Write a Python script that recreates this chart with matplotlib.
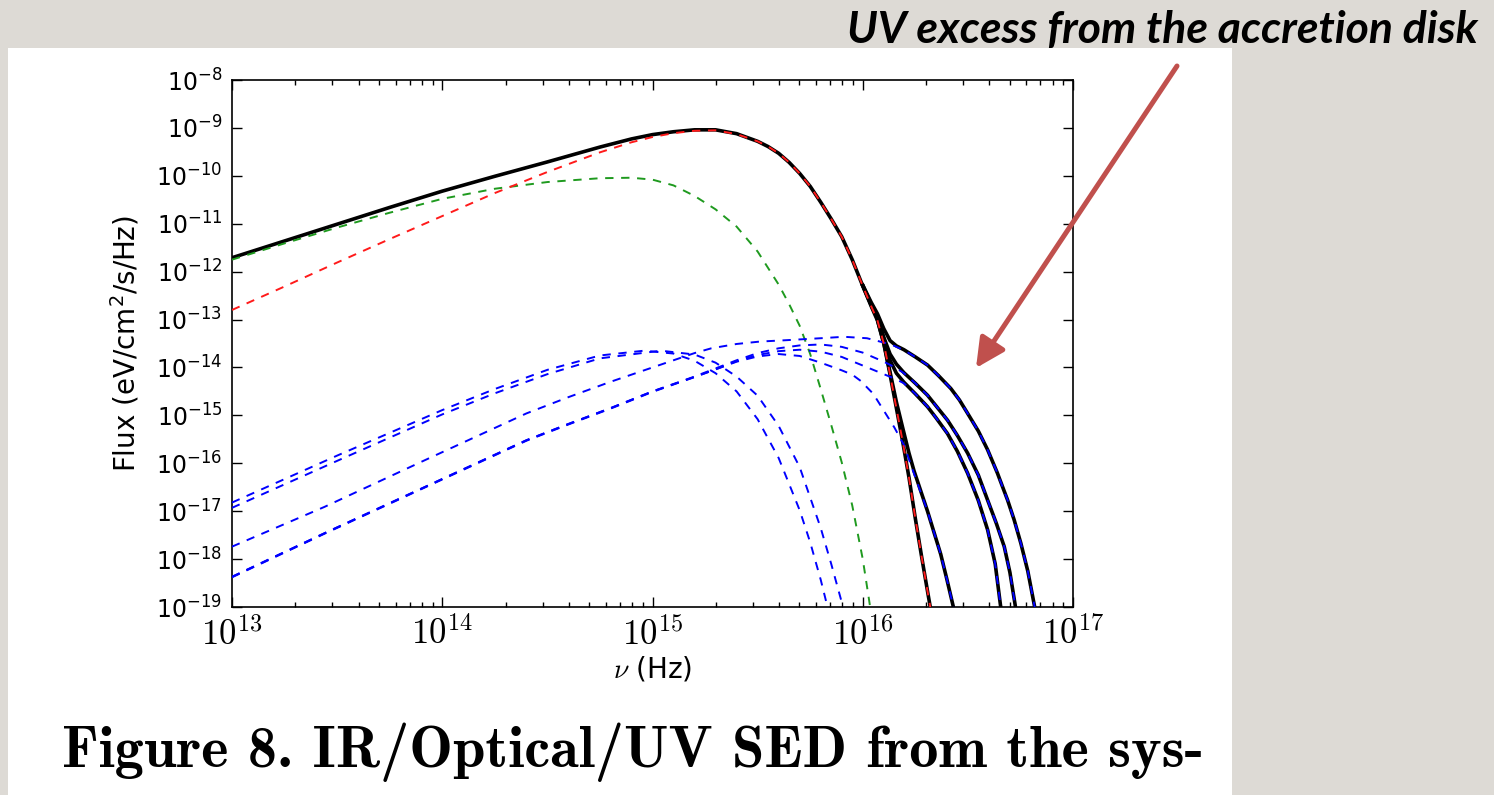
import numpy as np
import matplotlib
matplotlib.use("Agg")
import matplotlib.pyplot as plt
from matplotlib.patches import Rectangle, FancyArrowPatch
from matplotlib.ticker import LogLocator, NullLocator, FixedFormatter

plt.rcParams['mathtext.fontset'] = 'cm'
plt.rcParams['font.family'] = ['DejaVu Sans']
plt.rcParams['lines.scale_dashes'] = False

# everything below is log10(nu / Hz) and log10(flux)

# total (star + circumstellar component)
nu_total = [13.0, 13.25, 13.5, 13.75, 14.0, 14.25, 14.5, 14.75, 14.9, 15.0, 15.1, 15.2, 15.3, 15.4, 15.5,
            15.55, 15.6, 15.65, 15.7, 15.75, 15.8, 15.85, 15.9, 15.95, 16.0, 16.04, 16.07, 16.1, 16.13,
            16.16, 16.19, 16.22, 16.25, 16.28, 16.31, 16.335]
flux_total = [-11.71, -11.36, -11.01, -10.66, -10.32, -10.01, -9.71, -9.40, -9.23, -9.14, -9.08, -9.04, -9.04,
              -9.12, -9.28, -9.39, -9.53, -9.72, -9.95, -10.22, -10.55, -10.90, -11.27, -11.75, -12.30, -12.72,
              -13.02, -13.50, -14.15, -14.85, -15.55, -16.30, -17.15, -17.95, -18.72, -19.35]

# stellar component (red)
nu_star = [13.0, 13.25, 13.5, 13.75, 14.0, 14.25, 14.5, 14.75, 14.9, 15.0, 15.1, 15.2, 15.3, 15.4, 15.5,
           15.55, 15.6, 15.65, 15.7, 15.75, 15.8, 15.85, 15.9, 15.95, 16.0, 16.04, 16.07, 16.1, 16.13,
           16.16, 16.19, 16.22, 16.25, 16.28, 16.31, 16.335]
flux_star = [-12.80, -12.31, -11.81, -11.32, -10.84, -10.36, -9.92, -9.51, -9.30, -9.19, -9.11, -9.06, -9.05,
             -9.13, -9.28, -9.39, -9.53, -9.72, -9.95, -10.22, -10.55, -10.90, -11.27, -11.75, -12.30, -12.72,
             -13.02, -13.50, -14.15, -14.85, -15.55, -16.30, -17.15, -17.95, -18.72, -19.35]

# circumstellar component (green)
nu_green = [13.0, 13.25, 13.5, 13.75, 14.0, 14.25, 14.5, 14.75, 14.9, 15.0, 15.1, 15.2, 15.3, 15.4, 15.5,
            15.6, 15.65, 15.7, 15.75, 15.8, 15.85, 15.9, 15.95, 16.0, 16.03, 16.045]
flux_green = [-11.75, -11.41, -11.08, -10.77, -10.48, -10.27, -10.13, -10.05, -10.04, -10.08, -10.20, -10.42,
              -10.70, -11.06, -11.58, -12.27, -12.68, -13.13, -13.72, -14.45, -15.20, -15.98, -16.88, -18.00,
              -18.85, -19.30]

# accretion disk components (blue), low-frequency peaked pair
nu_p1 = [13.0, 13.5, 14.0, 14.25, 14.5, 14.75, 14.96, 15.1, 15.2, 15.3, 15.4, 15.5, 15.6, 15.7, 15.75, 15.8, 15.85]
flux_p1 = [-16.82, -15.84, -14.89, -14.45, -14.05, -13.75, -13.65, -13.71, -13.86, -14.12, -14.50, -15.08, -15.89,
           -16.98, -17.65, -18.43, -19.31]
nu_p2 = [13.0, 13.5, 14.0, 14.25, 14.5, 14.75, 15.04, 15.2, 15.3, 15.4, 15.5, 15.6, 15.7, 15.8, 15.85, 15.9, 15.93]
flux_p2 = [-16.93, -15.95, -14.98, -14.54, -14.14, -13.81, -13.65, -13.73, -13.90, -14.19, -14.59, -15.22, -16.08,
           -17.35, -18.10, -18.90, -19.40]

# accretion disk components (blue), high-frequency peaked
nu_q1 = [13.0, 13.44, 13.92, 14.4, 14.6, 14.8, 15.0, 15.12, 15.2, 15.28, 15.4, 15.51, 15.64, 15.8, 15.91, 16.02,
         16.1, 16.15, 16.196, 16.25, 16.308, 16.36, 16.419, 16.46, 16.499, 16.55, 16.594, 16.64, 16.689, 16.72,
         16.752, 16.785, 16.816, 16.83]
flux_q1 = [-17.74, -16.91, -15.93, -14.96, -14.62, -14.30, -14.00, -13.82, -13.70, -13.60, -13.51, -13.46, -13.43,
           -13.39, -13.36, -13.39, -13.48, -13.55, -13.64, -13.78, -13.95, -14.17, -14.44, -14.68, -14.96, -15.33,
           -15.72, -16.20, -16.77, -17.18, -17.67, -18.25, -18.96, -19.30]

nu_q2 = [13.0, 13.44, 13.92, 14.4, 14.6, 14.8, 15.0, 15.2, 15.3, 15.4, 15.5, 15.6, 15.7, 15.8, 15.9, 16.0, 16.1,
         16.15, 16.196, 16.25, 16.308, 16.35, 16.403, 16.45, 16.499, 16.55, 16.594, 16.635, 16.673, 16.70, 16.725,
         16.735]
flux_q2 = [-18.37, -17.46, -16.49, -15.52, -15.18, -14.85, -14.50, -14.19, -14.02, -13.85, -13.70, -13.60, -13.54,
           -13.52, -13.57, -13.69, -13.88, -13.99, -14.12, -14.33, -14.58, -14.81, -15.10, -15.42, -15.79, -16.25,
           -16.77, -17.25, -17.74, -18.28, -18.96, -19.30]

nu_q3 = [13.0, 13.44, 13.92, 14.4, 14.6, 14.8, 15.0, 15.2, 15.3, 15.4, 15.5, 15.6, 15.7, 15.8, 15.9, 16.0, 16.1,
         16.15, 16.196, 16.25, 16.308, 16.35, 16.403, 16.45, 16.499, 16.55, 16.594, 16.63, 16.655, 16.67]
flux_q3 = [-18.38, -17.47, -16.50, -15.53, -15.19, -14.86, -14.51, -14.20, -14.04, -13.87, -13.74, -13.66, -13.63,
           -13.67, -13.78, -13.96, -14.14, -14.23, -14.33, -14.55, -14.82, -15.06, -15.38, -15.75, -16.21, -16.78,
           -17.39, -18.10, -18.96, -19.40]

nu_q4 = [13.0, 13.44, 13.92, 14.4, 14.6, 14.8, 15.0, 15.2, 15.3, 15.4, 15.5, 15.6, 15.7, 15.8, 15.9, 15.95, 15.99,
         16.05, 16.1, 16.15, 16.196, 16.244, 16.308, 16.371, 16.40, 16.43, 16.44]
flux_q4 = [-18.37, -17.46, -16.49, -15.52, -15.18, -14.85, -14.50, -14.20, -14.04, -13.88, -13.77, -13.72, -13.76,
           -13.90, -14.06, -14.15, -14.28, -14.55, -14.90, -15.25, -15.62, -16.22, -17.00, -17.90, -18.42, -18.98,
           -19.30]

# totals with each disk added, from where they leave the stellar curve
nu_tot_a = [16.0, 16.04, 16.07, 16.10, 16.13, 16.16, 16.196, 16.25, 16.308, 16.36, 16.419, 16.46, 16.499, 16.55,
            16.594, 16.64, 16.689, 16.72, 16.752, 16.785, 16.816, 16.83]
flux_tot_a = [-12.28, -12.64, -12.88, -13.19, -13.44, -13.55, -13.63, -13.78, -13.95, -14.17, -14.44, -14.68, -14.96,
              -15.33, -15.72, -16.20, -16.77, -17.18, -17.67, -18.25, -18.96, -19.30]
nu_tot_b = [16.0, 16.04, 16.07, 16.10, 16.13, 16.16, 16.196, 16.25, 16.308, 16.35, 16.403, 16.45, 16.499, 16.55,
            16.594, 16.635, 16.673, 16.70, 16.725, 16.735]
flux_tot_b = [-12.29, -12.68, -12.95, -13.37, -13.72, -13.93, -14.11, -14.33, -14.58, -14.81, -15.10, -15.42, -15.79,
              -16.25, -16.77, -17.25, -17.74, -18.28, -18.96, -19.30]
nu_tot_c = [16.0, 16.04, 16.07, 16.10, 16.13, 16.16, 16.196, 16.25, 16.308, 16.35, 16.403, 16.45, 16.499, 16.55,
            16.594, 16.63, 16.655, 16.67]
flux_tot_c = [-12.29, -12.70, -12.98, -13.40, -13.85, -14.12, -14.31, -14.55, -14.82, -15.06, -15.38, -15.75, -16.21,
              -16.78, -17.39, -18.10, -18.96, -19.40]
nu_tot_d = [16.07, 16.10, 16.13, 16.16, 16.19, 16.22, 16.244, 16.308, 16.371, 16.40, 16.43, 16.44]
flux_tot_d = [-13.01, -13.49, -14.10, -14.72, -15.26, -15.79, -16.16, -17.00, -17.90, -18.42, -18.98, -19.30]

x_ticks = [13, 14, 15, 16, 17]
y_ticks = list(range(-19, -7))


def lin(a):
    return 10.0 ** np.array(a)


fig = plt.figure(figsize=(14.94, 7.95), dpi=100)
fig.patch.set_facecolor('#dddad5')
fig.add_artist(Rectangle((8 / 1494, 0), 1224 / 1494, 747 / 795, transform=fig.transFigure,
                         facecolor='white', edgecolor='none', zorder=-1))

ax = fig.add_axes([232 / 1494, 1 - 607 / 795, 841 / 1494, 527 / 795])

solid = dict(color='black', lw=2.6, zorder=2, solid_joinstyle='round')
ax.plot(lin(nu_total), lin(flux_total), **solid)
for nn, ff in [(nu_tot_a, flux_tot_a), (nu_tot_b, flux_tot_b), (nu_tot_c, flux_tot_c), (nu_tot_d, flux_tot_d)]:
    ax.plot(lin(nn), lin(ff), **solid)

dash = (6, 5.5)
ax.plot(lin(nu_green), lin(flux_green), color='#1f9a1f', lw=1.4, dashes=dash, zorder=3)
for nn, ff in [(nu_p1, flux_p1), (nu_p2, flux_p2), (nu_q1, flux_q1), (nu_q2, flux_q2),
               (nu_q3, flux_q3), (nu_q4, flux_q4)]:
    ax.plot(lin(nn), lin(ff), color='#0000ff', lw=1.4, dashes=dash, zorder=3)
ax.plot(lin(nu_star), lin(flux_star), color='#ff1a1a', lw=1.4, dashes=dash, zorder=4)

ax.set_xscale('log')
ax.set_yscale('log')
ax.set_xlim(1e13, 1e17)
ax.set_ylim(1e-19, 1e-8)

ax.set_xticks(lin(x_ticks))
ax.xaxis.set_major_formatter(FixedFormatter([r'$10^{%d}$' % t for t in x_ticks]))
ax.xaxis.set_minor_locator(LogLocator(base=10, subs=np.arange(2, 10), numticks=20))
ax.set_yticks(lin(y_ticks))
ax.yaxis.set_major_formatter(FixedFormatter([r'$\mathregular{10^{%d}}$' % t for t in y_ticks]))
ax.yaxis.set_minor_locator(NullLocator())

ax.tick_params(which='both', direction='in', top=True, right=True, width=1.0)
ax.tick_params(which='major', length=7)
ax.tick_params(which='minor', length=3.5)
ax.tick_params(axis='x', which='major', labelsize=25, pad=7)
ax.tick_params(axis='y', which='major', labelsize=17, pad=7)
for s in ax.spines.values():
    s.set_linewidth(1.2)

ax.set_ylabel(r'Flux (eV/cm$\mathregular{^2}$/s/Hz)', fontsize=20)
ax.yaxis.set_label_coords(-0.108, 0.5)
ax.set_xlabel(r'$\nu$ (Hz)', fontsize=20)
ax.xaxis.set_label_coords(0.5, -0.09)

fig.text(62 / 1494, 1 - 752 / 795, 'Figure 8. IR/Optical/UV SED from the sys-',
         family=['cmb10', 'DejaVu Serif'], fontsize=42, ha='left', va='center')

fig.text(1478 / 1494, 1 - 30 / 795, 'UV excess from the accretion disk',
         family=['Lato', 'DejaVu Sans'], style='italic', weight='bold', fontsize=32,
         ha='right', va='center')

arrow = FancyArrowPatch((1177 / 1494, 1 - 66 / 795), (976 / 1494, 1 - 368 / 795),
                        transform=fig.transFigure, arrowstyle='-|>,head_length=0.8,head_width=0.4',
                        mutation_scale=22, lw=3.6, color='#c0504d', shrinkA=0, shrinkB=0)
fig.add_artist(arrow)

fig.savefig('out.png', dpi=100, facecolor=fig.get_facecolor())
